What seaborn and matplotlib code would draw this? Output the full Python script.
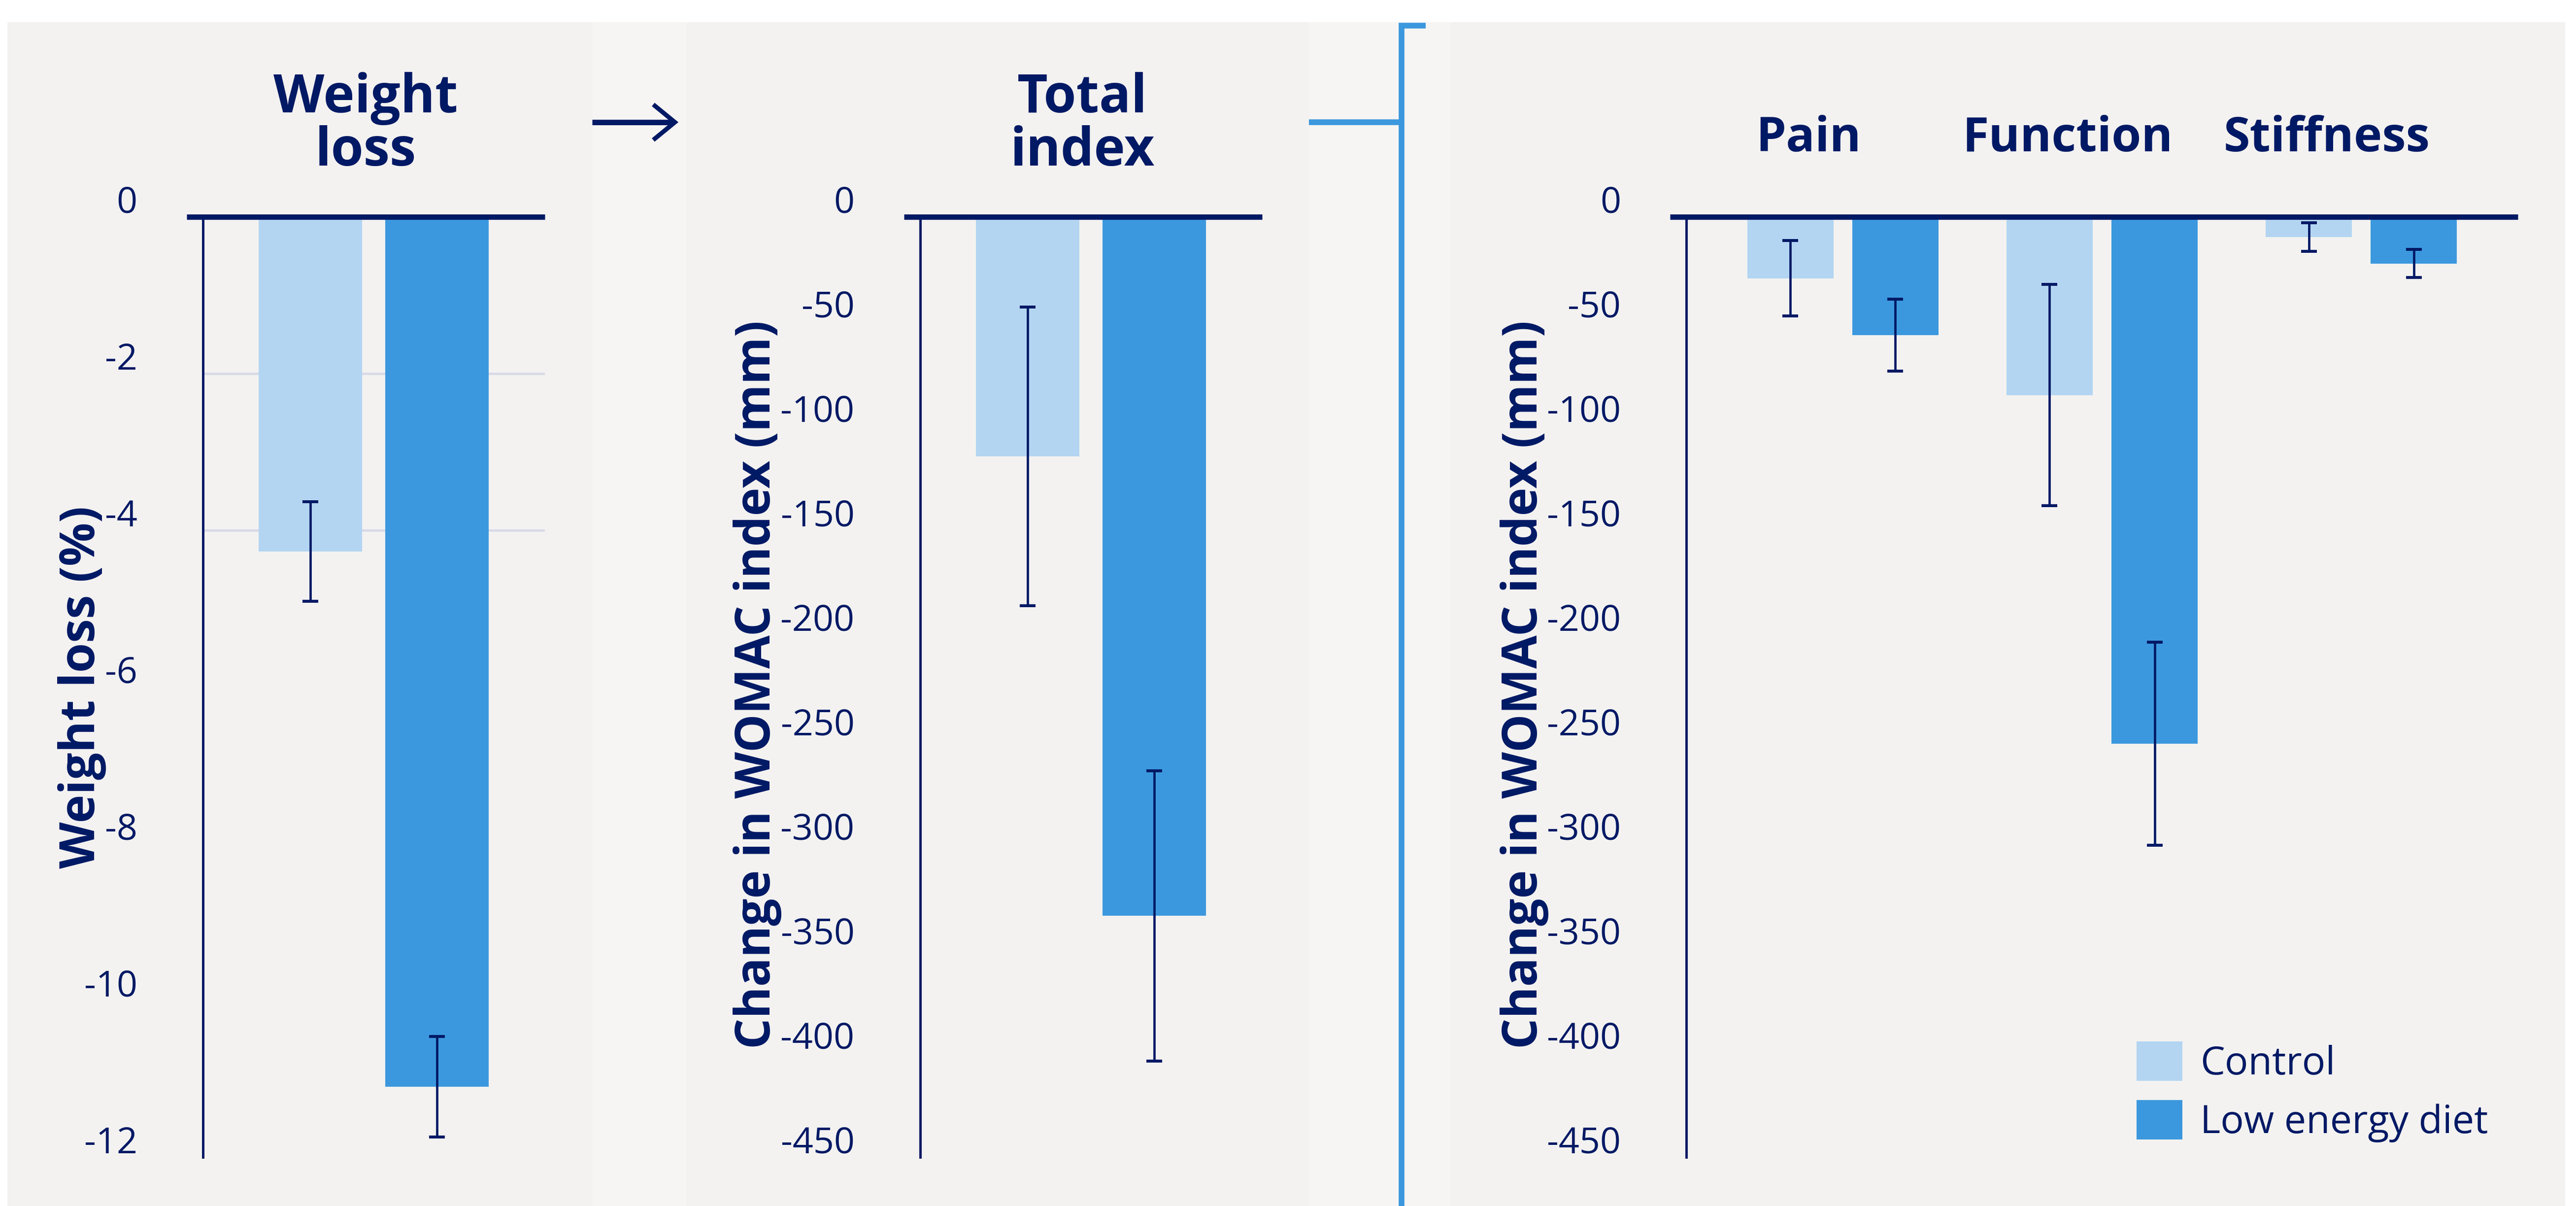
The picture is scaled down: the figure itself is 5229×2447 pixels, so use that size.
import numpy as np
import pandas as pd
import matplotlib
matplotlib.use("Agg")
import matplotlib.pyplot as plt
import seaborn as sns
from matplotlib.lines import Line2D
from matplotlib.patches import Rectangle, Patch
from matplotlib.transforms import ScaledTranslation, blended_transform_factory

# ---------------- data ----------------
groups = ["Control", "Low energy diet"]

weight_loss_mean = [-4.27, -11.1]
weight_loss_err = [0.635, 0.64]

total_index_mean = [-114.7, -334.5]
total_index_err = [71.5, 69.5]

subscales = ["Pain", "Function", "Stiffness"]
control_mean = [-29.4, -85.3, -9.7]
control_err = [18.0, 53.0, 6.8]
led_mean = [-56.7, -252.2, -22.3]
led_err = [17.2, 48.6, 6.8]

weight_ticks = [0, -2, -4, -6, -8, -10, -12]
womac_ticks = [0, -50, -100, -150, -200, -250, -300, -350, -400, -450]

# ---------------- style ----------------
NAVY = "#001965"
LIGHT = "#B3D5F2"
MID = "#3C98DE"
PANEL = "#F3F2F0"
GAP = "#F6F5F3"
GRID = "#D8DAE8"

sns.set_theme(style="white")
plt.rcParams["font.family"] = ["Open Sans", "DejaVu Sans"]
plt.rcParams["axes.unicode_minus"] = False

W, H = 5229, 2447
fig = plt.figure(figsize=(W / 100, H / 100), dpi=100)
fig.patch.set_facecolor("white")


def fx(px):
    return px / W


def fy(py):
    return 1 - py / H


def bg(x0, x1, color, y0=45, y1=H):
    fig.add_artist(Rectangle((fx(x0), fy(y1)), (x1 - x0) / W, (y1 - y0) / H,
                             transform=fig.transFigure, facecolor=color,
                             edgecolor="none", zorder=-5))


# panel backgrounds and the lighter strips between them
bg(15, 1202, PANEL)
bg(1202, 1394, GAP)
bg(1394, 2657, PANEL)
bg(2657, 2944, GAP)
bg(2944, 5207, PANEL)

AX_TOP, AX_BOT = 440, 2348
TICK_PX = 33


def make_axes(left, right):
    ax = fig.add_axes([fx(left), fy(AX_BOT), (right - left) / W, (AX_BOT - AX_TOP) / H])
    ax.set_facecolor("none")
    return ax


def style_axes(ax, ticks, width_px):
    ax.set_ylim(ticks[-1], 0)
    ax.set_yticks(ticks)
    ax.set_yticklabels([str(t) for t in ticks])
    ax.set_xticks([])
    ax.set_xlabel("")
    ax.set_ylabel("")
    for s in ("top", "right", "bottom"):
        ax.spines[s].set_visible(False)
    ax.spines["left"].set_color(NAVY)
    ax.spines["left"].set_linewidth(3.6)
    ax.tick_params(axis="y", direction="out", length=TICK_PX * 0.72, width=3.6,
                   color=NAVY, pad=72, labelsize=53, labelcolor=NAVY)
    off = ScaledTranslation(0, 0.36, fig.dpi_scale_trans)
    for lbl in ax.get_yticklabels():
        lbl.set_transform(lbl.get_transform() + off)
    # heavy zero baseline running from the tick end to the right edge
    ax.plot([-TICK_PX / width_px, 1], [0, 0], transform=ax.get_yaxis_transform(),
            color=NAVY, lw=7.9, solid_capstyle="butt", clip_on=False, zorder=5)


def add_errorbars(ax, means, errs):
    for p in ax.patches:
        val = p.get_y() + p.get_height()
        idx = int(np.argmin(np.abs(np.asarray(means) - val)))
        xc = p.get_x() + p.get_width() / 2
        ax.errorbar(xc, means[idx], yerr=errs[idx], fmt="none", ecolor=NAVY,
                    elinewidth=3.4, capsize=11.3, capthick=4.3, zorder=6)


palette = {groups[0]: LIGHT, groups[1]: MID}

# ---------------- panel 1: weight loss ----------------
ax1 = make_axes(411.5, 1105.5)
df1 = pd.DataFrame({"group": groups, "value": weight_loss_mean})
sns.barplot(data=df1, x="group", y="value", hue="group", palette=palette,
            saturation=1, width=0.82, errorbar=None, legend=False, linewidth=0,
            ax=ax1, zorder=3)
ax1.set_xlim(-0.85, 1.85)
for v in (-2, -4):
    ax1.axhline(v, color=GRID, lw=3.6, zorder=1)
style_axes(ax1, weight_ticks, 694)
add_errorbars(ax1, weight_loss_mean, weight_loss_err)

# ---------------- panel 2: total WOMAC index ----------------
ax2 = make_axes(1867.5, 2561.5)
df2 = pd.DataFrame({"group": groups, "value": total_index_mean})
sns.barplot(data=df2, x="group", y="value", hue="group", palette=palette,
            saturation=1, width=0.82, errorbar=None, legend=False, linewidth=0,
            ax=ax2, zorder=3)
ax2.set_xlim(-0.85, 1.85)
style_axes(ax2, womac_ticks, 694)
add_errorbars(ax2, total_index_mean, total_index_err)

# ---------------- panel 3: WOMAC subscales ----------------
ax3 = make_axes(3423, 5111)
df3 = pd.DataFrame({
    "subscale": subscales * 2,
    "group": [groups[0]] * 3 + [groups[1]] * 3,
    "value": control_mean + led_mean,
})
sns.barplot(data=df3, x="subscale", y="value", hue="group", palette=palette,
            order=subscales, hue_order=groups, width=0.81, gap=0.18, saturation=1,
            errorbar=None, legend=False, linewidth=0, ax=ax3, zorder=3)
ax3.set_xlim(-0.604, 2.604)
style_axes(ax3, womac_ticks, 1688)
add_errorbars(ax3, control_mean + led_mean, control_err + led_err)

# subscale headings above each pair of bars
head_tr = blended_transform_factory(ax3.transData, fig.transFigure)
for i, name in enumerate(subscales):
    ax3.text(i - 0.133, fy(307), name, transform=head_tr, ha="center", va="baseline",
             fontsize=70, fontweight="bold", color=NAVY)

# legend
ax3.legend(handles=[Patch(facecolor=LIGHT, edgecolor="none"),
                    Patch(facecolor=MID, edgecolor="none")],
           labels=groups, loc="lower left", bbox_to_anchor=(fx(4337), fy(2318)),
           bbox_transform=fig.transFigure, frameon=False, fontsize=57,
           labelcolor=NAVY, handlelength=1.18, handleheight=1.18, handletextpad=0.45,
           labelspacing=0.42, borderpad=0, borderaxespad=0)

# ---------------- titles and axis labels ----------------
fig.text(fx(742), fy(254), "Weight\nloss", ha="center", va="center", fontsize=77,
         fontweight="bold", color=NAVY, linespacing=1.0)
fig.text(fx(2197), fy(254), "Total\nindex", ha="center", va="center", fontsize=77,
         fontweight="bold", color=NAVY, linespacing=1.0)

for xb, ystart, label in [(192, 1762, "Weight loss (%)"),
                          (1563, 2128, "Change in WOMAC index (mm)"),
                          (3120, 2128, "Change in WOMAC index (mm)")]:
    fig.text(fx(xb), fy(ystart), label, rotation=90, rotation_mode="anchor",
             ha="left", va="baseline", fontsize=70.5, fontweight="bold", color=NAVY)

# ---------------- connectors ----------------
# arrow between weight loss and total index
fig.add_artist(Line2D([fx(1202), fx(1368)], [fy(248), fy(248)], color=NAVY, lw=8,
                      solid_capstyle="butt"))
fig.add_artist(Line2D([fx(1326), fx(1370), fx(1326)], [fy(212), fy(248), fy(284)],
                      color=NAVY, lw=6.5, solid_joinstyle="miter", solid_capstyle="butt"))

# blue bracket linking the total index to its subscales
fig.add_artist(Line2D([fx(2657), fx(2845)], [fy(248), fy(248)], color=MID, lw=8.4,
                      solid_capstyle="butt"))
fig.add_artist(Line2D([fx(2894), fx(2845), fx(2845)], [fy(51.5), fy(51.5), fy(H)],
                      color=MID, lw=8.4, solid_joinstyle="miter", solid_capstyle="butt"))

fig.savefig("out.png", dpi=100, facecolor="white")
